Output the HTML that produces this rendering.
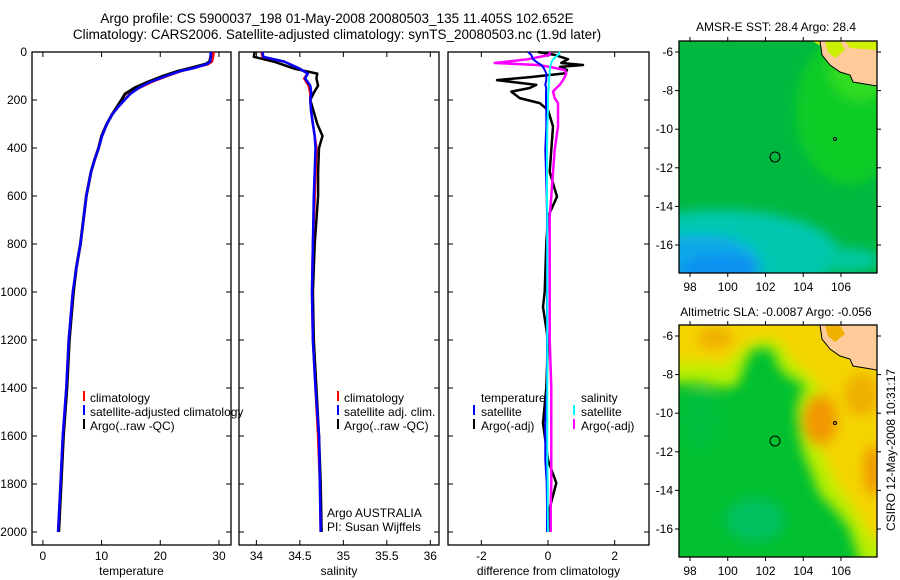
<!DOCTYPE html>
<html><head><meta charset="utf-8"><style>
html,body{margin:0;padding:0;background:#fff;}
svg{display:block;font-family:"Liberation Sans",sans-serif;}
text{font-size:12px;fill:#000;}
</style></head><body>
<svg id="fig" width="900" height="580" viewBox="0 0 900 580">
<defs>
<filter id="blur" x="-20%" y="-20%" width="140%" height="140%"><feGaussianBlur stdDeviation="6"/></filter>
<clipPath id="clipm1"><rect x="679" y="41" width="198" height="232"/></clipPath>
<clipPath id="clipm2"><rect x="679" y="325" width="198" height="232"/></clipPath>
</defs>
<text x="337" y="23" text-anchor="middle" style="font-size:13.5px">Argo profile: CS 5900037_198 01-May-2008 20080503_135 11.405S 102.652E</text>
<text x="337" y="39" text-anchor="middle" style="font-size:13.5px">Climatology: CARS2006. Satellite-adjusted climatology: synTS_20080503.nc (1.9d later)</text>

<!-- Map 1 -->
<g>
<g clip-path="url(#clipm1)">
<rect x="679" y="41" width="198" height="232" fill="#00b840"/>
<g filter="url(#blur)">
<ellipse cx="850" cy="110" rx="55" ry="75" fill="#10cc28"/>
<ellipse cx="860" cy="70" rx="30" ry="30" fill="#30dd20"/>
<ellipse cx="720" cy="255" rx="120" ry="45" fill="#00c8b0"/>
<ellipse cx="700" cy="265" rx="60" ry="30" fill="#10a8e8"/>
<ellipse cx="720" cy="272" rx="40" ry="18" fill="#0890f0"/>
<ellipse cx="850" cy="260" rx="30" ry="12" fill="#00c8a0"/>
</g>
<polygon points="812,41 877,41 877,62 840,60 828,50" fill="#c0f000"/>
<polygon points="820,41 877,41 877,86 853,82 850,75 840,72 830,65 822,55" fill="#ffcc99" stroke="#000" stroke-width="1"/>
<polygon points="825,41 840,41 845,50 835,58 828,52" fill="#c8f000"/>
<polygon points="845,41 877,41 877,50 850,48" fill="#d0f000"/>
</g>
<rect x="679" y="41" width="198" height="232" fill="none" stroke="#000" stroke-width="1.3"/>
<circle cx="775" cy="157" r="5" fill="none" stroke="#000"/>
<circle cx="835" cy="139" r="1.5" fill="none" stroke="#000"/>
<text x="776" y="31" text-anchor="middle">AMSR-E SST: 28.4  Argo: 28.4</text>
<g id="m1ticks"></g>
</g>

<!-- Map 2 -->
<g>
<g clip-path="url(#clipm2)">
<rect x="679" y="325" width="198" height="232" fill="#00c030"/>
<g filter="url(#blur)">
<polygon points="660,310 890,310 890,570 862,570 850,530 835,510 820,495 810,470 802,450 798,430 796,410 800,395 805,385 790,378 780,370 772,350 765,348 752,350 745,365 738,385 725,388 700,383 660,383" fill="#b8ee00"/>
<polygon points="660,310 890,310 890,550 870,535 858,515 845,495 835,480 825,460 818,440 815,420 818,400 822,388 805,372 792,360 782,345 770,338 755,340 740,350 725,365 705,362 660,362" fill="#f4d400"/>
<ellipse cx="715" cy="338" rx="18" ry="12" fill="#f0b000"/>
<ellipse cx="820" cy="420" rx="18" ry="26" fill="#f09800"/>
<ellipse cx="862" cy="395" rx="18" ry="22" fill="#f0b000"/>
<ellipse cx="873" cy="470" rx="10" ry="26" fill="#f09800"/>
<ellipse cx="755" cy="520" rx="30" ry="22" fill="#00c060"/>
<ellipse cx="700" cy="420" rx="20" ry="30" fill="#00c040"/>
</g>
<polygon points="820,325 877,325 877,370 853,366 850,359 840,356 830,349 822,339" fill="#ffcc99" stroke="#000" stroke-width="1"/>
<polygon points="825,325 840,325 845,334 835,342 828,336" fill="#f0b000"/>
</g>
<rect x="679" y="325" width="198" height="232" fill="none" stroke="#000" stroke-width="1.3"/>
<circle cx="775" cy="441" r="5" fill="none" stroke="#000"/>
<circle cx="835" cy="423" r="1.5" fill="none" stroke="#000"/>
<text x="776" y="316" text-anchor="middle">Altimetric SLA: -0.0087  Argo: -0.056</text>
<g id="m2ticks"></g>
</g>
<text transform="translate(895,450) rotate(-90)" text-anchor="middle">CSIRO 12-May-2008 10:31:17</text>

<g id="plots"></g>

<!-- legends -->
<g>
<line x1="84" y1="391" x2="84" y2="401" stroke="#f00" stroke-width="2"/><text x="90" y="402">climatology</text>
<line x1="84" y1="405" x2="84" y2="415" stroke="#00f" stroke-width="2"/><text x="90" y="416">satellite-adjusted climatology</text>
<line x1="84" y1="419" x2="84" y2="429" stroke="#000" stroke-width="2"/><text x="90" y="430">Argo(..raw -QC)</text>
</g>
<g>
<line x1="338" y1="391" x2="338" y2="401" stroke="#f00" stroke-width="2"/><text x="344" y="402">climatology</text>
<line x1="338" y1="405" x2="338" y2="415" stroke="#00f" stroke-width="2"/><text x="344" y="416">satellite adj. clim.</text>
<line x1="338" y1="419" x2="338" y2="429" stroke="#000" stroke-width="2"/><text x="344" y="430">Argo(..raw -QC)</text>
</g>
<text x="327" y="517">Argo AUSTRALIA</text>
<text x="327" y="531">PI: Susan Wijffels</text>
<g>
<text x="481" y="402">temperature</text><text x="581" y="402">salinity</text>
<line x1="474" y1="405" x2="474" y2="415" stroke="#00f" stroke-width="2"/><text x="481" y="416">satellite</text>
<line x1="474" y1="419" x2="474" y2="429" stroke="#000" stroke-width="2"/><text x="481" y="430">Argo(-adj)</text>
<line x1="574" y1="405" x2="574" y2="415" stroke="#0ff" stroke-width="2"/><text x="581" y="416">satellite</text>
<line x1="574" y1="419" x2="574" y2="429" stroke="#f0f" stroke-width="2"/><text x="581" y="430">Argo(-adj)</text>
</g>
</svg>
<script>
// ---- data ----
const depthTicks=[0,200,400,600,800,1000,1200,1400,1600,1800,2000];
const tempTicks=[0,10,20,30];
const salTicks=[34,34.5,35,35.5,36];
const diffTicks=[-2,0,2];
const lonTicks=[98,100,102,104,106];
const latTicks=[-6,-8,-10,-12,-14,-16];

const tDepth=[0,20,40,50,65,80,100,125,150,175,200,230,260,300,350,400,450,500,600,700,800,900,1000,1200,1400,1600,1800,2000];
const tClim=[29.1,29.0,28.8,28.2,26.0,23.5,21.2,18.5,16.4,14.8,13.9,12.8,11.8,10.9,10.1,9.5,8.8,8.2,7.4,6.9,6.4,5.7,5.1,4.4,4.0,3.4,3.0,2.6];
const tSat=[28.6,28.6,28.5,28.0,26.0,23.4,21.0,18.3,16.3,14.9,13.9,12.8,11.8,10.9,10.1,9.5,8.8,8.2,7.4,6.9,6.4,5.7,5.1,4.4,4.0,3.4,3.0,2.6];
const tArgo=[28.7,28.6,28.4,27.8,25.5,23.0,20.5,17.9,15.6,14.0,13.4,12.6,11.8,10.9,10.0,9.5,8.8,8.2,7.4,6.9,6.4,5.7,5.2,4.5,4.1,3.5,3.1,2.7];

const sDepth=[0,20,40,70,90,110,140,170,200,250,300,350,400,500,600,800,1000,1200,1400,1600,1800,2000];
const sClim=[34.06,34.07,34.32,34.5,34.59,34.55,34.6,34.62,34.62,34.63,34.65,34.67,34.69,34.68,34.67,34.65,34.64,34.65,34.68,34.71,34.73,34.74];
const sSat=[34.07,34.08,34.32,34.5,34.59,34.56,34.62,34.63,34.62,34.63,34.65,34.67,34.68,34.67,34.66,34.65,34.64,34.65,34.68,34.72,34.73,34.74];
const sArgo=[33.98,33.97,34.2,34.44,34.7,34.69,34.71,34.66,34.62,34.66,34.7,34.76,34.72,34.71,34.71,34.67,34.65,34.66,34.69,34.72,34.74,34.75];

const dDepth=[0,12,30,46,54,62,75,89,104,117,137,150,165,192,213,242,310,408,500,603,686,800,1000,1062,1200,1400,1546,1700,1796,1900,2000];
const dTempSat=[-0.6,-0.5,-0.45,-0.3,-0.2,-0.15,-0.1,-0.05,-0.05,-0.05,-0.08,-0.05,-0.06,-0.06,-0.06,-0.05,-0.05,-0.08,-0.06,-0.04,-0.03,-0.03,-0.03,-0.03,-0.03,-0.03,-0.08,-0.08,-0.04,-0.03,-0.03];
const dTempArgo=[-0.3,0.2,0.6,0.4,1.05,0.36,0.57,0.5,-0.5,-1.53,-0.35,-0.55,-1.1,-0.85,-0.25,0,0.15,0.1,0.05,0.27,0,-0.05,-0.1,-0.15,0,-0.05,-0.15,0,0.25,0.05,0];
const dSalArgo=[0.05,0.05,-0.6,-1.6,-0.3,0.05,0.5,0.55,0.5,0.45,0.35,0.25,0.15,0.2,0.3,0.3,0.3,0.2,0.15,0.1,0.05,0.05,0.05,0.05,0.05,0.1,0.1,0.1,0.1,0.08,0.08];
const dSalSat=[0.36,0.3,0.15,0.1,0.08,0.06,0.05,0.05,0.04,0.03,0.02,0.02,0.01,0,0,0,-0.02,-0.03,-0.03,-0.03,-0.02,-0.02,-0.02,-0.02,-0.02,-0.02,-0.02,-0.02,-0.01,-0.01,0];

// ---- layout ----
const NS='http://www.w3.org/2000/svg';
const root=document.getElementById('plots');
function mk(tag,at,parent){const e=document.createElementNS(NS,tag);for(const k in at)e.setAttribute(k,at[k]);(parent||root).appendChild(e);return e;}
const yD=d=>52+d*0.24;
const panels=[
 {x0:32,x1:231,v0:-1.85,v1:32.05,ticks:tempTicks,title:'temperature',ylab:true,name:'temperature-panel'},
 {x0:239,x1:439,v0:33.8,v1:36.1,ticks:salTicks,title:'salinity',ylab:false,name:'salinity-panel'},
 {x0:448,x1:649,v0:-3.0,v1:3.03,ticks:diffTicks,title:'difference from climatology',ylab:false,name:'difference-panel'}
];
panels.forEach(p=>{p.sx=v=>p.x0+(v-p.v0)/(p.v1-p.v0)*(p.x1-p.x0);});
panels.forEach(p=>{
 const g=mk('g',{});
 
 
 p.g=g;
 const fr=mk('rect',{x:p.x0,y:52,width:p.x1-p.x0,height:493,fill:'none',stroke:'#000','stroke-width':1.3},g);
 
 
 depthTicks.forEach(d=>{
  mk('line',{x1:p.x0,x2:p.x0+5,y1:yD(d),y2:yD(d),stroke:'#000'},g);
  mk('line',{x1:p.x1,x2:p.x1-5,y1:yD(d),y2:yD(d),stroke:'#000'},g);
  if(p.ylab){const t=mk('text',{x:27,y:yD(d)+4,'text-anchor':'end'},g);t.textContent=d;
   
   }
 });
 p.ticks.forEach(v=>{
  const x=p.sx(v);
  mk('line',{x1:x,x2:x,y1:545,y2:540,stroke:'#000'},g);
  mk('line',{x1:x,x2:x,y1:52,y2:57,stroke:'#000'},g);
  const t=mk('text',{x:x,y:560,'text-anchor':'middle'},g);t.textContent=v;
  
  
 });
 const tt=mk('text',{x:(p.x0+p.x1)/2,y:575,'text-anchor':'middle'},g);tt.textContent=p.title;
 
 
});
function line(p,depths,vals,color,w,name){
 const pts=depths.map((d,i)=>p.sx(vals[i]).toFixed(1)+','+yD(d).toFixed(1)).join(' ');
 const e=mk('polyline',{points:pts,fill:'none',stroke:color,'stroke-width':w,'stroke-linejoin':'round'},p.g);
 
 
}
line(panels[0],tDepth,tArgo,'#000',3,'temperature-argo-line');
line(panels[0],tDepth,tClim,'#f00',2.5,'temperature-climatology-line');
line(panels[0],tDepth,tSat,'#00f',2.5,'temperature-satellite-line');
line(panels[1],sDepth,sArgo,'#000',2.5,'salinity-argo-line');
line(panels[1],sDepth,sClim,'#f00',2.5,'salinity-climatology-line');
line(panels[1],sDepth,sSat,'#00f',2.5,'salinity-satellite-line');
line(panels[2],dDepth,dTempArgo,'#000',2.5,'temperature-diff-argo-line');
line(panels[2],dDepth,dSalArgo,'#f0f',2.5,'salinity-diff-argo-line');
line(panels[2],dDepth,dTempSat,'#00f',2,'temperature-diff-satellite-line');
line(panels[2],dDepth,dSalSat,'#0ff',2,'salinity-diff-satellite-line');

// map ticks
function mapTicks(gid,top,lat6){
 const g=document.getElementById(gid);
 const lx=v=>690+(v-98)*18.875;
 const ly=v=>lat6+(-6-v)*19.3;
 lonTicks.forEach(v=>{
  mk('line',{x1:lx(v),x2:lx(v),y1:top,y2:top-4,stroke:'#000'},g);
  mk('line',{x1:lx(v),x2:lx(v),y1:top+232,y2:top+236,stroke:'#000'},g);
  const t=mk('text',{x:lx(v),y:top+250,'text-anchor':'middle'},g);t.textContent=v;
  
  
 });
 latTicks.forEach(v=>{
  mk('line',{x1:675,x2:679,y1:ly(v),y2:ly(v),stroke:'#000'},g);
  mk('line',{x1:877,x2:881,y1:ly(v),y2:ly(v),stroke:'#000'},g);
  const t=mk('text',{x:673,y:ly(v)+4,'text-anchor':'end'},g);t.textContent=v;
  
  
 });
}
mapTicks('m1ticks',41,52);
mapTicks('m2ticks',325,336);
</script>
</body></html>
